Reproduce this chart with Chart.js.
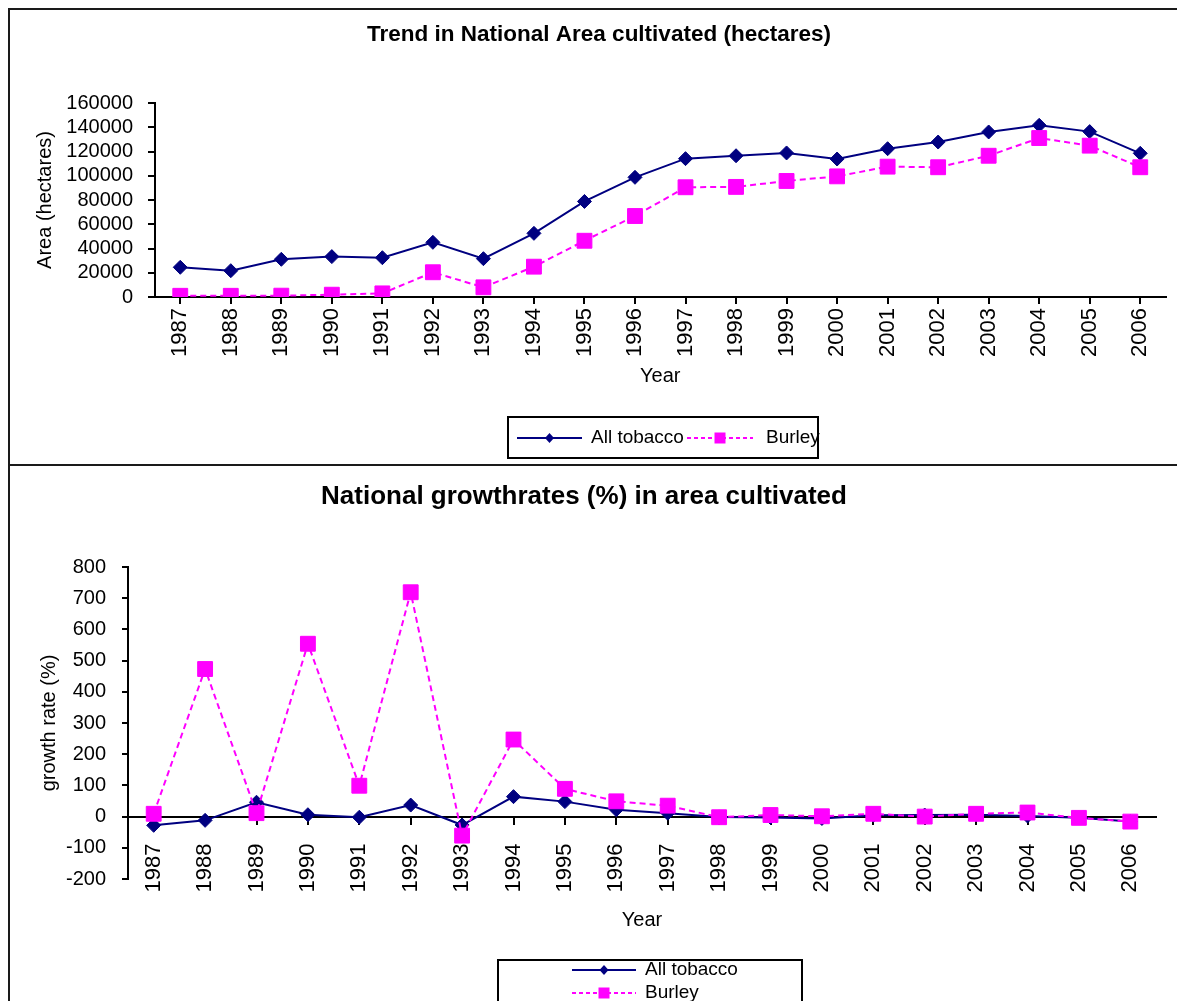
<!DOCTYPE html>
<html>
<head>
<meta charset="utf-8">
<script src="https://cdn.jsdelivr.net/npm/chart.js@4"></script>
<style>
  body { margin: 0; background: #fff; width: 1177px; height: 1001px; overflow: hidden; position: relative; }
  .frame { position: absolute; border: 2px solid #1a1a1a; }
  canvas { position: absolute; left: 0; }
</style>
</head>
<body>
<div class="frame" style="left:8px; top:8px; width:1300px; height:454px;"></div>
<div class="frame" style="left:8px; top:464px; width:1300px; height:600px; border-right:none; border-bottom:none;"></div>
<canvas id="areaChart" width="1177" height="465" style="top:0"></canvas>
<canvas id="growthChart" width="1177" height="536" style="top:465px"></canvas>
<script>
const years = ['1987', '1988', '1989', '1990', '1991', '1992', '1993', '1994', '1995', '1996',
               '1997', '1998', '1999', '2000', '2001', '2002', '2003', '2004', '2005', '2006'];

// area cultivated (hectares)
const areaAllTobacco = [24500, 21700, 31100, 33300, 32400, 45100, 31600, 52500, 78800, 98700,
                        114100, 116500, 118800, 113800, 122300, 127800, 136100, 141600, 136400, 118500];
const areaBurley = [1000, 1000, 1100, 1900, 3000, 20400, 8000, 25000, 46400, 66800,
                    90500, 90800, 95700, 99500, 107500, 107000, 116500, 131100, 124800, 107000];

// growth rates (%)
const growthAllTobacco = [-28, -12, 46, 6, -2, 37, -27, 64, 48, 22,
                          11, -1, -3, -6, 4, 5, 6, 2, -4, -16];
const growthBurley = [9, 473, 11, 554, 99, 719, -61, 247, 89, 49,
                      35, -2, 5, 1, 9, 0, 9, 13, -4, -16];

// y tick labels
const areaTicks = [0, 20000, 40000, 60000, 80000, 100000, 120000, 140000, 160000];
const growthTicks = [-200, -100, 0, 100, 200, 300, 400, 500, 600, 700, 800];

const NAVY = '#000080';
const MAGENTA = '#FF00FF';
const FONT = '"Liberation Sans", Arial, sans-serif';

Chart.defaults.font.family = FONT;
Chart.defaults.color = '#000';

function series(label, data, color, dashed, order) {
  return {
    label: label,
    data: data,
    borderColor: color,
    backgroundColor: color,
    borderWidth: 2,
    borderDash: dashed ? [6, 4] : [],
    pointStyle: dashed ? 'rect' : 'rectRot',
    pointRadius: dashed ? 10.5 : 7,
    pointBorderWidth: 1,
    pointBackgroundColor: color,
    pointBorderColor: color,
    tension: 0,
    order: order
  };
}

// legend with line + marker samples inside a box
const boxLegend = {
  id: 'boxLegend',
  afterDraw(chart, args, opts) {
    const ctx = chart.ctx;
    ctx.save();
    ctx.strokeStyle = '#000';
    ctx.lineWidth = 2;
    ctx.setLineDash([]);
    ctx.strokeRect(opts.box[0], opts.box[1], opts.box[2], opts.box[3]);
    ctx.font = '19px ' + FONT;
    ctx.textBaseline = 'middle';
    opts.items.forEach((it, i) => {
      const ds = chart.data.datasets[i];
      ctx.strokeStyle = ds.borderColor;
      ctx.lineWidth = 2;
      ctx.setLineDash(ds.pointStyle === 'rect' ? [4, 3] : []);
      ctx.beginPath();
      ctx.moveTo(it.x, it.y);
      ctx.lineTo(it.x + it.len, it.y);
      ctx.stroke();
      ctx.setLineDash([]);
      const cx = it.x + it.len / 2;
      ctx.fillStyle = ds.borderColor;
      ctx.beginPath();
      if (ds.pointStyle === 'rect') {
        ctx.rect(cx - 5.5, it.y - 5.5, 11, 11);
      } else {
        ctx.moveTo(cx, it.y - 5);
        ctx.lineTo(cx + 4.5, it.y);
        ctx.lineTo(cx, it.y + 5);
        ctx.lineTo(cx - 4.5, it.y);
        ctx.closePath();
      }
      ctx.fill();
      ctx.fillStyle = '#000';
      ctx.fillText(ds.label, it.tx, it.y);
    });
    ctx.restore();
  }
};

function tickGrid(len) {
  return { drawOnChartArea: false, drawTicks: true, tickLength: len, color: '#000', lineWidth: 2 };
}

function fixedTicks(values) {
  return function (scale) {
    scale.ticks = values.map(v => ({ value: v }));
  };
}

new Chart(document.getElementById('areaChart'), {
  type: 'line',
  data: {
    labels: years,
    datasets: [
      series('All tobacco', areaAllTobacco, NAVY, false, 2),
      series('Burley', areaBurley, MAGENTA, true, 1)
    ]
  },
  options: {
    responsive: false,
    animation: false,
    events: [],
    layout: { padding: { left: 30, right: 9, top: 0, bottom: 0 } },
    plugins: {
      legend: { display: false },
      tooltip: { enabled: false },
      title: {
        display: true,
        text: 'Trend in National Area cultivated (hectares)',
        font: { size: 22.5, weight: 'bold' },
        padding: { top: 21.5, bottom: 54.5 }
      },
      boxLegend: {
        box: [508, 417, 310, 41],
        items: [
          { x: 517, len: 65, y: 438, tx: 591 },
          { x: 687, len: 66, y: 438, tx: 766 }
        ]
      }
    },
    scales: {
      x: {
        offset: true,
        grid: tickGrid(7),
        border: { display: true, color: '#000', width: 2 },
        ticks: { minRotation: 90, maxRotation: 90, autoSkip: false, padding: 4, font: { size: 22 } },
        title: { display: true, text: 'Year', font: { size: 20 }, padding: { top: 0, bottom: 77 } },
        afterFit(scale) { scale.height = 168; }
      },
      y: {
        min: areaTicks[0],
        max: areaTicks[areaTicks.length - 1],
        grid: tickGrid(7),
        border: { display: true, color: '#000', width: 2 },
        ticks: { padding: 15, autoSkip: false, font: { size: 20 }, callback: v => String(v) },
        afterBuildTicks: fixedTicks(areaTicks),
        title: { display: true, text: 'Area (hectares)', font: { size: 20 }, padding: { top: 3, bottom: 0 } },
        afterFit(scale) { scale.width = 125; }
      }
    }
  },
  plugins: [boxLegend]
});

new Chart(document.getElementById('growthChart'), {
  type: 'line',
  data: {
    labels: years,
    datasets: [
      series('All tobacco', growthAllTobacco, NAVY, false, 2),
      series('Burley', growthBurley, MAGENTA, true, 1)
    ]
  },
  options: {
    responsive: false,
    animation: false,
    events: [],
    layout: { padding: { left: 0, right: 9, top: 0, bottom: 122 } },
    plugins: {
      legend: { display: false },
      tooltip: { enabled: false },
      title: {
        display: true,
        text: 'National growthrates (%) in area cultivated',
        font: { size: 26, weight: 'bold' },
        padding: { top: 16.4, bottom: 54.4 }
      },
      boxLegend: {
        box: [498, 495, 304, 60],
        items: [
          { x: 572, len: 64, y: 505, tx: 645 },
          { x: 572, len: 64, y: 528, tx: 645 }
        ]
      }
    },
    scales: {
      x: {
        position: { y: 0 },
        offset: true,
        grid: tickGrid(7),
        border: { display: true, color: '#000', width: 2 },
        ticks: { minRotation: 90, maxRotation: 90, autoSkip: false, padding: 20, font: { size: 22 } },
        title: { display: true, text: 'Year', font: { size: 20 }, padding: { top: 0, bottom: 6 } },
        afterFit(scale) { scale.height = 122; }
      },
      y: {
        min: growthTicks[0],
        max: growthTicks[growthTicks.length - 1],
        grid: tickGrid(6),
        border: { display: true, color: '#000', width: 2 },
        ticks: { padding: 16, autoSkip: false, font: { size: 20 }, callback: v => String(v) },
        afterBuildTicks: fixedTicks(growthTicks),
        title: { display: true, text: 'growth rate (%)', font: { size: 20 }, padding: { top: 37, bottom: 0 } },
        afterFit(scale) { scale.width = 128; }
      }
    }
  },
  plugins: [boxLegend]
});
</script>
</body>
</html>
